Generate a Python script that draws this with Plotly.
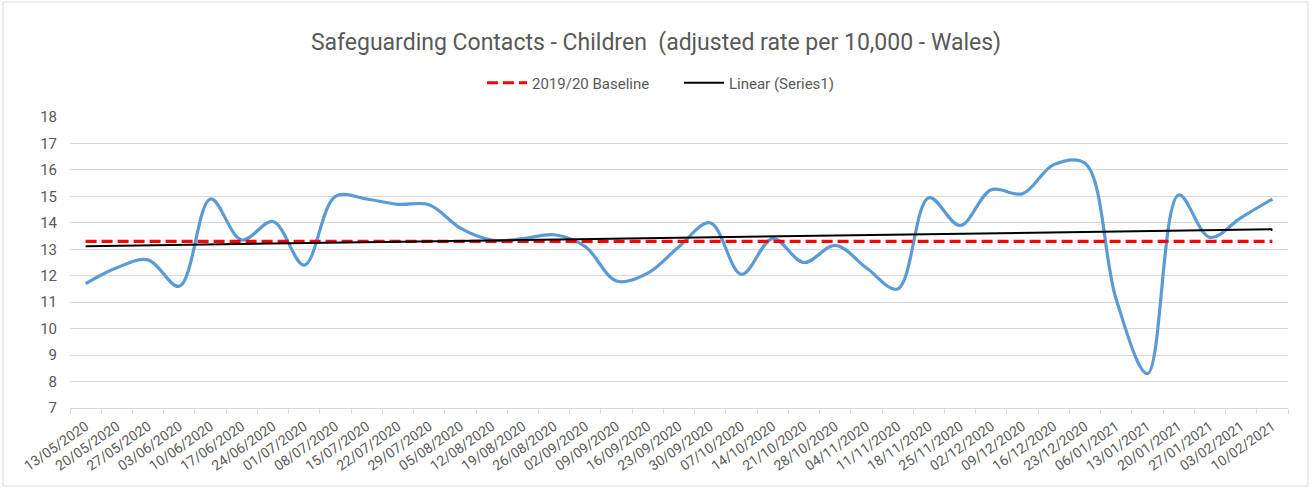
import numpy as np
import plotly.graph_objects as go

dates = ["13/05/2020","20/05/2020","27/05/2020","03/06/2020","10/06/2020","17/06/2020","24/06/2020",
         "01/07/2020","08/07/2020","15/07/2020","22/07/2020","29/07/2020","05/08/2020","12/08/2020",
         "19/08/2020","26/08/2020","02/09/2020","09/09/2020","16/09/2020","23/09/2020","30/09/2020",
         "07/10/2020","14/10/2020","21/10/2020","28/10/2020","04/11/2020","11/11/2020","18/11/2020",
         "25/11/2020","02/12/2020","09/12/2020","16/12/2020","23/12/2020","06/01/2021","13/01/2021",
         "20/01/2021","27/01/2021","03/02/2021","10/02/2021"]
rate = [11.7, 12.3, 12.6, 11.6, 14.9, 13.35, 14.05, 12.4, 15.0, 14.9, 14.7, 14.68, 13.8, 13.35,
        13.4, 13.55, 13.1, 11.8, 12.1, 13.1, 14.0, 12.05, 13.4, 12.5, 13.15, 12.3, 11.5, 14.95,
        13.9, 15.25, 15.1, 16.2, 16.25, 11.1, 8.3, 15.05, 13.45, 14.2, 14.9]
baseline_value = 13.3
baseline = [baseline_value] * len(dates)

# Linear trendline (Excel "Linear (Series1)")
idx = np.arange(len(rate))
slope, intercept = np.polyfit(idx, rate, 1)
trend = list(intercept + slope * idx)

fig = go.Figure()
fig.add_trace(go.Scatter(x=dates, y=rate, mode="lines", name="Series1", showlegend=False,
                         line=dict(color="#5b9bd5", width=3.2, shape="spline", smoothing=1.0)))
fig.add_trace(go.Scatter(x=dates, y=baseline, mode="lines", name="2019/20 Baseline",
                         line=dict(color="#ff0000", width=3.2, dash="11px,5px")))
fig.add_trace(go.Scatter(x=dates, y=trend, mode="lines", name="Linear (Series1)",
                         line=dict(color="#000000", width=2)))

font = "Roboto, sans-serif"
L, R, T, B = 70, 24, 117, 80
PW, PH = 1312 - L - R, 488 - T - B
fig.update_layout(
    width=1312, height=488,
    margin=dict(l=L, r=R, t=T, b=B, autoexpand=False),
    paper_bgcolor="white", plot_bgcolor="white",
    font=dict(family=font, color="#595959", size=14),
    title=dict(text="Safeguarding Contacts - Children  (adjusted rate per 10,000 - Wales)",
               x=0.5, xref="container", xanchor="center", y=1 - 42 / 488, yref="container",
               yanchor="middle", font=dict(size=23, color="#595959", family=font)),
    legend=dict(orientation="h", x=482 / 1312, xref="container", xanchor="left",
                y=1 - 83 / 488, yref="container", yanchor="middle",
                font=dict(size=15, color="#595959"), itemwidth=40, entrywidth=142,
                tracegroupgap=0),
    shapes=[dict(type="rect", xref="paper", yref="paper",
                 x0=(3 - L) / PW, x1=(1308 - L) / PW,
                 y0=-(486 - (T + PH)) / PH, y1=1 + (T - 2) / PH,
                 line=dict(color="#d9d9d9", width=1))],
)
fig.update_xaxes(type="category", showgrid=False, showline=True, linecolor="#d9d9d9", linewidth=1,
                 ticks="outside", tickson="boundaries", ticklen=5, tickcolor="#d9d9d9",
                 tickangle=-35, tickfont=dict(size=14, color="#595959"), ticklabelstandoff=4,
                 range=[-0.5, len(dates) - 0.5], automargin=False)
fig.update_yaxes(range=[7, 18], dtick=1, showgrid=True, gridcolor="#d9d9d9", gridwidth=1,
                 zeroline=False, showline=False, tickfont=dict(size=15, color="#595959"),
                 ticks="", ticklabelstandoff=12, automargin=False)

fig.write_html("out.html", config={"displayModeBar": False},
               post_script="document.body.style.margin='0';")
